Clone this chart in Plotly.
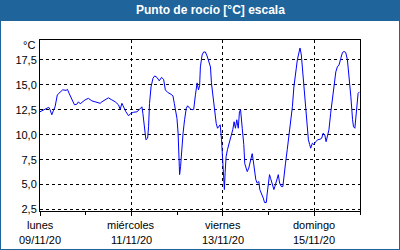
import pandas as pd
import plotly.graph_objects as go

# hours since 2020-11-09 00:00
hours = [0.0, 1.0, 2.1, 3.5, 4.6, 5.3, 6.2, 7.0, 7.9, 9.1, 10.5, 11.9, 13.7, 14.4, 15.4, 16.7,
         18.1, 19.3, 20.2, 21.1, 22.3, 23.7, 25.4, 27.2, 28.9, 30.7, 31.6, 32.5, 34.2, 35.9,
         37.7, 39.5, 41.2, 42.1, 43.0, 43.8, 45.1, 46.5, 47.7, 49.1, 50.9, 52.3, 53.5, 54.0,
         54.7, 55.6, 56.5, 57.0, 57.5, 58.3, 59.3, 60.2, 61.4, 62.6, 63.8, 64.9, 65.8, 67.0,
         68.8, 69.8, 70.5, 71.2, 71.9, 72.5, 73.0, 73.3, 73.8, 74.4, 75.1, 75.9, 76.8, 77.5,
         78.6, 79.8, 80.7, 81.6, 82.5, 83.2, 83.8, 84.2, 85.1, 85.9, 86.8, 87.7, 88.6, 89.5,
         90.0, 90.7, 91.6, 92.5, 93.2, 93.8, 94.6, 95.3, 95.9, 96.5, 96.8, 97.2, 97.7, 98.4,
         99.1, 99.8, 100.5, 101.2, 101.9, 102.6, 103.3, 104.1, 104.7, 105.3, 106.2, 107.0,
         107.5, 108.8, 109.6, 110.5, 111.4, 111.9, 112.6, 113.3, 114.0, 114.9, 115.4, 116.3,
         117.2, 117.9, 118.8, 119.3, 119.8, 120.5, 121.1, 121.9, 122.8, 123.3, 124.2, 125.1,
         125.8, 126.7, 127.5, 128.0, 128.9, 129.8, 130.7, 131.6, 132.5, 133.3, 134.2, 135.1,
         135.9, 136.5, 137.2, 137.7, 138.6, 139.5, 140.4, 140.9, 141.6, 142.1, 143.0, 143.8,
         144.7, 145.9, 147.0, 147.9, 148.6, 149.5, 150.2, 150.9, 151.7, 152.6, 153.5, 154.4,
         155.3, 156.1, 157.0, 157.9, 158.8, 159.6, 160.5, 161.4, 162.3, 163.2, 164.1, 164.6,
         165.3, 165.8, 166.3, 167.0, 167.7]
dew_point = [12.3, 12.4, 12.55, 12.65, 12.75, 12.5, 12.0, 12.4, 12.8, 14.0, 14.3, 14.5, 14.45, 14.55, 14.1, 13.5,
             13.0, 13.05, 13.3, 13.1, 13.3, 13.5, 13.65, 13.4, 13.3, 13.2, 13.15, 13.3, 13.5, 13.7,
             13.5, 13.3, 13.0, 12.55, 13.15, 12.75, 12.3, 11.9, 12.15, 12.25, 12.3, 12.55, 12.8, 12.15,
             10.8, 9.5, 9.65, 10.8, 13.15, 14.8, 15.65, 15.9, 15.75, 15.4, 15.75, 15.55, 14.5, 14.25,
             14.05, 13.9, 13.15, 12.3, 11.65, 10.15, 7.5, 6.0, 6.8, 8.8, 10.15, 11.5, 12.65, 12.9,
             12.65, 12.5, 12.55, 14.0, 15.2, 14.5, 14.9, 16.8, 18.0, 18.3, 18.3, 17.9, 17.45, 16.8,
             15.2, 14.0, 12.5, 11.15, 10.65, 10.8, 11.0, 9.5, 7.65, 5.5, 4.5, 6.2, 7.8, 8.5,
             9.0, 9.3, 9.8, 10.5, 11.3, 10.65, 11.5, 10.65, 12.3, 12.5, 10.6, 9.0,
             7.1, 6.3, 6.65, 7.3, 8.1, 7.5, 6.45, 5.5, 5.15, 5.3, 4.5, 4.15,
             3.65, 3.2, 3.2, 4.15, 5.15, 6.0, 5.6, 5.15, 4.5, 4.8, 5.5, 6.0,
             5.15, 4.8, 4.8, 5.8, 7.15, 8.5, 9.8, 11.15, 12.8, 14.8, 16.3, 17.5,
             18.2, 18.7, 18.0, 16.8, 14.5, 12.15, 10.15, 9.5, 9.0, 8.65, 9.15, 9.0,
             9.3, 9.5, 9.55, 9.65, 10.15, 10.0, 9.3, 9.8, 10.5, 12.15, 13.5, 15.2,
             16.3, 16.8, 17.0, 17.65, 18.25, 18.35, 18.25, 17.5, 15.8, 13.8, 11.5, 10.8,
             10.65, 11.8, 13.15, 14.15, 14.3]

start = pd.Timestamp("2020-11-09 00:00")
times = [start + pd.Timedelta(hours=h) for h in hours]

tick_dates = ["2020-11-09", "2020-11-11", "2020-11-13", "2020-11-15"]
tick_days = ["lunes", "miércoles", "viernes", "domingo"]
tick_date_labels = ["09/11/20", "11/11/20", "13/11/20", "15/11/20"]
y_ticks = [2.5, 5.0, 7.5, 10.0, 12.5, 15.0, 17.5]
y_tick_labels = ["2,5", "5,0", "7,5", "10,0", "12,5", "15,0", "17,5"]
title_text = "Punto de rocío [°C] escala"
unit_text = "°C"

BLUE = "#1f649b"
FONT = "Liberation Sans, Arial, sans-serif"

fig = go.Figure()
fig.add_trace(go.Scatter(x=times, y=dew_point, mode="lines",
                         line=dict(color="#0000ff", width=1), hoverinfo="skip"))

L, R, T, B = 40, 40, 40, 39
PW, PH = 400 - L - R, 250 - T - B
def px(x):
    return (x - L) / PW
def py(y):
    return (250 - B - y) / PH

annotations = [
    dict(text="<b>" + title_text + "</b>", xref="paper", yref="paper",
         x=px(210), y=py(10.5), xanchor="center", yanchor="middle",
         showarrow=False, font=dict(family=FONT, size=12, color="white")),
    dict(text=unit_text, xref="paper", yref="paper",
         x=px(37), y=py(45), xanchor="right", yanchor="middle",
         showarrow=False, font=dict(family=FONT, size=11, color="black")),
]
for d, day, lab in zip(tick_dates, tick_days, tick_date_labels):
    annotations.append(dict(text=day, xref="x", yref="paper", x=d, y=py(225),
                            xanchor="center", yanchor="middle", showarrow=False,
                            font=dict(family=FONT, size=11, color="black")))
    annotations.append(dict(text=lab, xref="x", yref="paper", x=d, y=py(240),
                            xanchor="center", yanchor="middle", showarrow=False,
                            font=dict(family=FONT, size=11, color="black")))

fig.update_layout(
    width=400, height=250,
    margin=dict(l=L, r=R, t=T, b=B),
    paper_bgcolor=BLUE, plot_bgcolor="white",
    showlegend=False,
    font=dict(family=FONT, size=11, color="black"),
    shapes=[dict(type="rect", xref="paper", yref="paper",
                 x0=px(1), x1=px(399), y0=py(249), y1=py(21),
                 fillcolor="white", line=dict(width=0), layer="below")],
    annotations=annotations,
)
fig.update_xaxes(
    type="date",
    range=["2020-11-09 00:00", "2020-11-16 00:00"],
    tickvals=tick_dates, showticklabels=False,
    ticks="outside", ticklen=4, tickcolor="black",
    showgrid=True, gridcolor="black", griddash="3px,3px", gridwidth=1,
    showline=True, linecolor="black", linewidth=1, mirror=True,
    zeroline=False,
    minor=dict(dtick=86400000, tick0="2020-11-09", ticks="outside", ticklen=3,
               tickcolor="black", showgrid=False),
)
fig.update_yaxes(
    range=[2.35, 19.5],
    tickvals=y_ticks, ticktext=y_tick_labels,
    ticks="",
    showgrid=True, gridcolor="black", griddash="3px,3px", gridwidth=1,
    showline=True, linecolor="black", linewidth=1, mirror=True,
    zeroline=False,
    tickfont=dict(family=FONT, size=11, color="black"),
)

fig.write_html("out.html")
